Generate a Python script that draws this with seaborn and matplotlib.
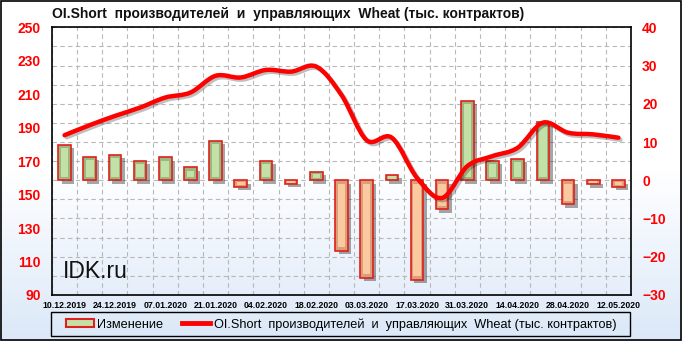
import numpy as np
import pandas as pd
import matplotlib
matplotlib.use("Agg")
import matplotlib.pyplot as plt
import matplotlib.patheffects as pe
from matplotlib.path import Path
from matplotlib.patches import PathPatch, Rectangle
from matplotlib.lines import Line2D
from matplotlib.colors import LinearSegmentedColormap
import seaborn as sns

# ---- data ----
dates = ["10.12.2019", "17.12.2019", "24.12.2019", "31.12.2019", "07.01.2020",
         "14.01.2020", "21.01.2020", "28.01.2020", "04.02.2020", "11.02.2020",
         "18.02.2020", "25.02.2020", "03.03.2020", "10.03.2020", "17.03.2020",
         "24.03.2020", "31.03.2020", "07.04.2020", "14.04.2020", "21.04.2020",
         "28.04.2020", "05.05.2020", "12.05.2020"]
change = [9.3, 6.1, 6.7, 5.1, 6.0, 3.4, 10.3, -1.7, 5.1, -0.9, 2.2, -18.4,
          -25.5, 1.5, -26.0, -7.6, 20.8, 5.1, 5.6, 15.2, -6.3, -1.1, -1.7]
oi_short = [185.5, 191.5, 197.0, 202.0, 208.0, 211.0, 221.0, 220.0, 224.5,
            223.5, 226.5, 209.5, 182.5, 184.0, 160.0, 148.0, 167.0, 173.0,
            178.0, 193.0, 187.0, 186.0, 184.0]
left_ticks = [90, 110, 130, 150, 170, 190, 210, 230, 250]
right_ticks = [-30, -20, -10, 0, 10, 20, 30, 40]
title = "OI.Short  производителей  и  управляющих  Wheat (тыс. контрактов)"
bar_label = "Изменение"

df = pd.DataFrame({"date": dates, "change": change,
                   "sign": ["pos" if v >= 0 else "neg" for v in change]})

plt.rcParams['font.family'] = ['Liberation Sans', 'DejaVu Sans']

fig = plt.figure(figsize=(6.82, 3.41), dpi=100)

# figure background gradient
bg = fig.add_axes([0, 0, 1, 1], zorder=-10)
grad = np.linspace(0, 1, 256).reshape(-1, 1)
cmap = LinearSegmentedColormap.from_list("bg", ["#ffffff", "#ffffff", "#dbe8f8"])
bg.imshow(grad, aspect="auto", cmap=cmap, extent=[0, 1, 0, 1], origin="upper")
bg.set_axis_off()
bg.add_patch(Rectangle((0.001, 0.002), 0.997, 0.995, transform=bg.transAxes,
                       fill=False, edgecolor="black", linewidth=1.2))
# legend box
bg.add_patch(Rectangle((51 / 682, 1 - 336 / 341), 579 / 682, 24 / 341,
                       transform=bg.transAxes, fill=False, edgecolor="black",
                       linewidth=1.0))

ax = fig.add_axes([0.0762, 0.135, 0.849, 0.785])
ax.set_facecolor("none")

pos_col = "#98c075"
neg_col = "#e99c6a"
pos_light = "#c3e0a6"
neg_light = "#fac9a0"
sns.barplot(data=df, x="date", y="change", hue="sign",
            palette={"pos": pos_col, "neg": neg_col}, dodge=False,
            width=0.5, legend=False, ax=ax, order=dates)
bars = list(ax.patches)
for p in bars:
    p.set_edgecolor("#e0201c")
    p.set_linewidth(1.2)
    p.set_path_effects([pe.SimplePatchShadow(offset=(2.5, -2.5), alpha=0.4,
                                             shadow_rgbFace="#222222"),
                        pe.Normal()])
    # inner bevel face
    x, y = p.get_x(), p.get_y()
    w, h = p.get_width(), p.get_height()
    light = pos_light if h >= 0 else neg_light
    dh = 0.9 if abs(h) > 2.5 else abs(h) * 0.25
    sgn = 1 if h >= 0 else -1
    inner = Rectangle((x + w * 0.2, y + sgn * dh), w * 0.6, h - 2 * sgn * dh,
                      facecolor=light, edgecolor="none", zorder=p.get_zorder() + 0.1)
    ax.add_patch(inner)

ax.set_ylim(-30, 40)
ax.set_xlim(-0.5, len(dates) - 0.5)
ax.set_xticks(range(0, len(dates), 2))
ax.set_xticklabels(dates[::2], fontsize=6.3, fontweight="bold", color="#000000")
ax.set_xticks(np.arange(-0.5, len(dates), 1), minor=True)
ax.set_xlabel("")
ax.set_ylabel("")

# line axis (left scale)
ax2 = ax.twinx()
ax2.set_ylim(90, 250)
ax2.set_yticks(left_ticks)
ax2.yaxis.tick_left()
ax2.tick_params(axis="y", length=0, labelsize=10, labelcolor="#ff0000", pad=8)
for t in ax2.get_yticklabels():
    t.set_fontweight("bold")
for s in ax2.spines.values():
    s.set_visible(False)

# bar axis ticks on the right
ax.yaxis.tick_right()
ax.set_yticks(right_ticks)
ax.set_yticks(np.arange(-25, 40, 10), minor=True)
ax.tick_params(axis="both", which="both", length=0)
ax.tick_params(axis="y", labelsize=10, labelcolor="#ff0000", pad=8)
ax.tick_params(axis="x", pad=4)
for t in ax.get_yticklabels():
    t.set_fontweight("bold")
ax.grid(which="minor", axis="x", color="#b8b8b8", linestyle=(0, (4, 3)), linewidth=0.8)
ax.grid(which="both", axis="y", color="#b8b8b8", linestyle=(0, (4, 3)), linewidth=0.8)
ax.set_axisbelow(True)
for s in ax.spines.values():
    s.set_color("black")
    s.set_linewidth(1.2)

# smooth line (Bezier through the data points)
xs = np.arange(len(oi_short), dtype=float)
ys = np.array(oi_short, dtype=float)
n = len(xs)
verts = [(xs[0], ys[0])]
codes = [Path.MOVETO]
for i in range(n - 1):
    x0, y0 = (xs[i - 1], ys[i - 1]) if i > 0 else (xs[i], ys[i])
    x1, y1 = xs[i], ys[i]
    x2, y2 = xs[i + 1], ys[i + 1]
    x3, y3 = (xs[i + 2], ys[i + 2]) if i + 2 < n else (xs[i + 1], ys[i + 1])
    c1 = (x1 + (x2 - x0) / 6, y1 + (y2 - y0) / 6)
    c2 = (x2 - (x3 - x1) / 6, y2 - (y3 - y1) / 6)
    verts += [c1, c2, (x2, y2)]
    codes += [Path.CURVE4] * 3
path = Path(verts, codes)
ax2.add_patch(PathPatch(path, facecolor="none", edgecolor="#ff0000", linewidth=3.2,
                        capstyle="round", joinstyle="round",
                        path_effects=[pe.SimpleLineShadow(offset=(1.5, -1.5), alpha=0.25),
                                      pe.Normal()]))

# title
fig.text(52 / 682, 1 - 14 / 341, title, fontsize=10, fontweight="bold",
         ha="left", va="center", color="#111111")

# watermark
fig.text(63 / 682, 1 - 272 / 341, "IDK.ru", fontsize=16.5, ha="left", va="center",
         color="#111111")

# legend
h_bar = Rectangle((0, 0), 1, 1, facecolor=pos_light, edgecolor="#e0201c", linewidth=1.5)
h_line = Line2D([0], [0], color="#ff0000", linewidth=3.5)
leg = fig.legend([h_bar, h_line], [bar_label, title], ncol=2,
                 bbox_to_anchor=(341 / 682, 1 - 324.5 / 341), loc="center",
                 frameon=False, fontsize=9.2, borderaxespad=0, borderpad=0,
                 handlelength=2.2, handletextpad=0.25, columnspacing=1.5,
                 handleheight=0.6)

fig.savefig("out.png", dpi=100)
